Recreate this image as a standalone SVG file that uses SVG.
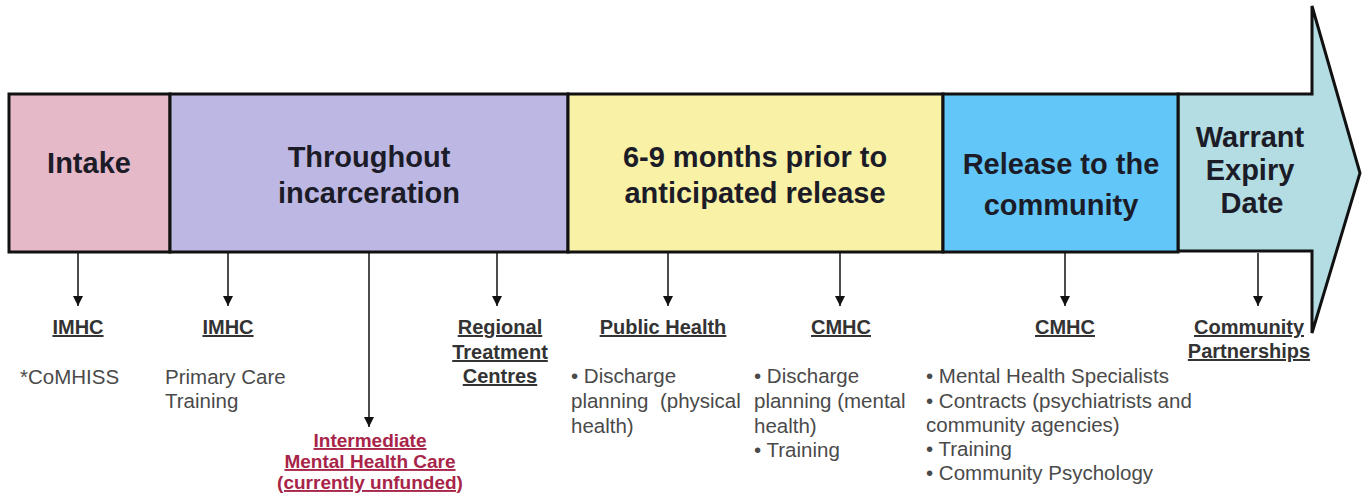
<svg xmlns="http://www.w3.org/2000/svg" width="1364" height="499" viewBox="0 0 1364 499">
<defs>
<marker id="ah" viewBox="0 0 10 10" refX="10" refY="5" markerWidth="11" markerHeight="10" markerUnits="userSpaceOnUse" orient="auto">
<path d="M0,0 L10,5 L0,10 Z" fill="#111"/>
</marker>
<style>
.box{stroke:#111;stroke-width:3}
.t{font-family:"Liberation Sans",Arial,sans-serif;font-weight:bold;font-size:29px;fill:#1c1c28;text-anchor:middle}
.h{font-family:"Liberation Sans",Arial,sans-serif;font-weight:bold;font-size:20px;fill:#333;text-anchor:middle;text-decoration:underline}
.r{font-family:"Liberation Sans",Arial,sans-serif;font-weight:bold;font-size:19px;fill:#a82448;text-anchor:middle;text-decoration:underline}
.b{font-family:"Liberation Sans",Arial,sans-serif;font-size:20.5px;fill:#4a4a4a}
.c{stroke:#111;stroke-width:1.5;fill:none;marker-end:url(#ah)}
</style>
</defs>
<rect width="1364" height="499" fill="#fff"/>
<g id="warrant">
<path class="box" d="M1178,94 L1312,94 L1312,6 L1360,173 L1312,333 L1312,251 L1178,251 Z" fill="#b3dde2"/>
<text class="t" x="1250" y="147">Warrant</text>
<text class="t" x="1250" y="180">Expiry</text>
<text class="t" x="1252" y="213">Date</text>
</g>
<g id="intake">
<rect class="box" x="9" y="94" width="161" height="158" fill="#e6b9c8"/>
<text class="t" x="89" y="173">Intake</text>
</g>
<g id="throughout">
<rect class="box" x="170" y="94" width="398" height="158" fill="#bdb8e3"/>
<text class="t" x="369" y="167">Throughout</text>
<text class="t" x="369" y="203">incarceration</text>
</g>
<g id="prior">
<rect class="box" x="568" y="94" width="375" height="158" fill="#f9f1a5"/>
<text class="t" x="755" y="167">6-9 months prior to</text>
<text class="t" x="755" y="203">anticipated release</text>
</g>
<g id="release">
<rect class="box" x="943" y="94" width="235" height="158" fill="#62c6f8"/>
<text class="t" x="1061" y="174">Release to the</text>
<text class="t" x="1061" y="215">community</text>
</g>
<g id="connectors">
<line class="c" x1="78" y1="253" x2="78" y2="306"/>
<line class="c" x1="228" y1="253" x2="228" y2="306"/>
<line class="c" x1="369" y1="253" x2="369" y2="427"/>
<line class="c" x1="497" y1="253" x2="497" y2="306"/>
<line class="c" x1="668" y1="253" x2="668" y2="306"/>
<line class="c" x1="840" y1="253" x2="840" y2="306"/>
<line class="c" x1="1065" y1="253" x2="1065" y2="306"/>
<line class="c" x1="1258" y1="253" x2="1258" y2="306"/>
</g>
<g id="n-imhc1">
<text class="h" x="78" y="334">IMHC</text>
<text class="b" x="20" y="384">*CoMHISS</text>
</g>
<g id="n-imhc2">
<text class="h" x="228" y="334">IMHC</text>
<text class="b" x="165" y="384">Primary Care</text>
<text class="b" x="165" y="408">Training</text>
</g>
<g id="n-imhc3">
<text class="r" x="370" y="447">Intermediate</text>
<text class="r" x="370" y="468">Mental Health Care</text>
<text class="r" x="370" y="489">(currently unfunded)</text>
</g>
<g id="n-rtc">
<text class="h" x="500" y="334">Regional</text>
<text class="h" x="500" y="359">Treatment</text>
<text class="h" x="500" y="383">Centres</text>
</g>
<g id="n-ph">
<text class="h" x="663" y="334">Public Health</text>
<text class="b" x="571" y="383">• Discharge</text>
<text class="b" x="571" y="408" xml:space="preserve">planning  (physical</text>
<text class="b" x="571" y="433">health)</text>
</g>
<g id="n-cmhc1">
<text class="h" x="841" y="334">CMHC</text>
<text class="b" x="754" y="383">• Discharge</text>
<text class="b" x="754" y="408">planning (mental</text>
<text class="b" x="754" y="433">health)</text>
<text class="b" x="754" y="457">• Training</text>
</g>
<g id="n-cmhc2">
<text class="h" x="1065" y="334">CMHC</text>
<text class="b" x="926" y="383">• Mental Health Specialists</text>
<text class="b" x="926" y="408">• Contracts (psychiatrists and</text>
<text class="b" x="926" y="432">community agencies)</text>
<text class="b" x="926" y="456">• Training</text>
<text class="b" x="926" y="480">• Community Psychology</text>
</g>
<g id="n-cp">
<text class="h" x="1249" y="334">Community</text>
<text class="h" x="1249" y="358">Partnerships</text>
</g>
</svg>
